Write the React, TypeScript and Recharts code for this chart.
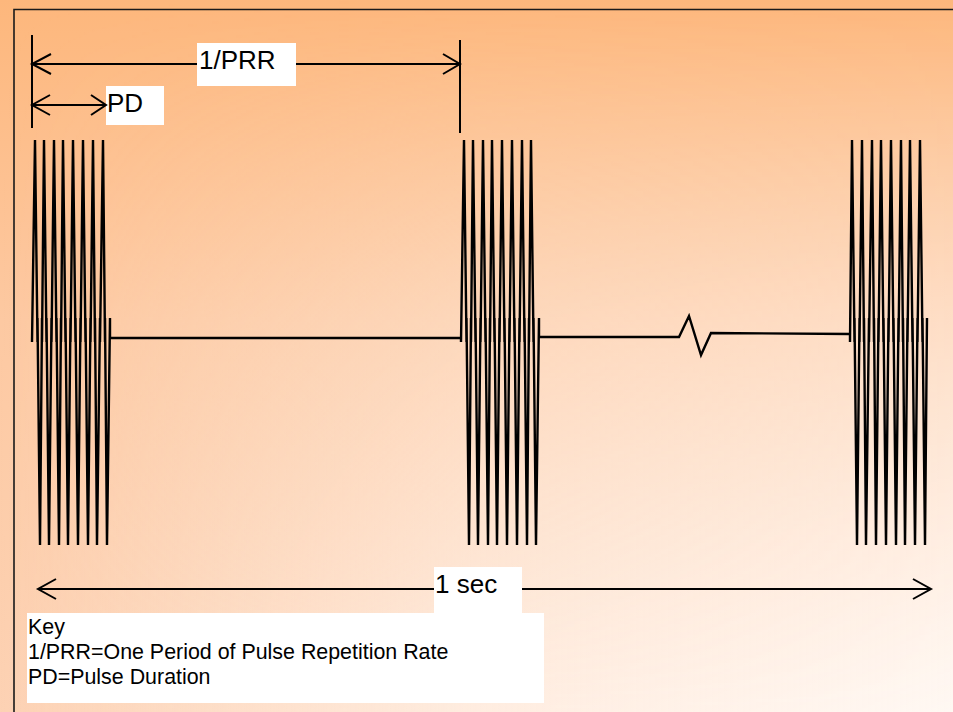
import React from 'react';
import { ComposedChart, Line, XAxis, YAxis, ReferenceArea } from 'recharts';

type Pt = { x: number; y: number };
const toPts = (arr: number[][]): Pt[] => arr.map(([x, y]) => ({ x, y }));

// ---- diagram data (diagram units = pixels of a 953 x 712 canvas) ----
// each burst: alternating crest / trough x positions
const burst1Extremes = [35, 40, 44, 49, 54, 59, 63, 68, 73, 78, 83, 88, 93, 97, 103, 107];
const burst2Extremes = [464, 469, 473, 478, 483, 488, 492, 497, 502, 507, 512, 517, 522, 527, 531, 536];
const burst3Extremes = [852, 857, 862, 866, 872, 876, 881, 886, 891, 896, 901, 905, 910, 915, 920, 925];
const burstStart = [32, 461, 850];
const burstEnd = [110, 539, 927];

const crestY = 140;
const troughY = 545;
const crestBaseY = 342;
const troughBaseY = 318;

const baseline1: number[][] = [[110, 338], [461, 338]];
const baseline2: number[][] = [[539, 337], [679, 337], [689, 316], [701, 355], [711, 333], [850, 334]];

const buildBurst = (ext: number[], xs: number, xe: number): number[][] => {
  const out: number[][] = [];
  for (let i = 0; i < ext.length; i++) {
    const left = i === 0 ? xs : (ext[i - 1] + ext[i]) / 2;
    const right = i === ext.length - 1 ? xe : (ext[i] + ext[i + 1]) / 2;
    const isCrest = i % 2 === 0;
    const base = isCrest ? crestBaseY : troughBaseY;
    out.push([left, base], [ext[i], isCrest ? crestY : troughY], [right, base]);
  }
  return out;
};

const waveform: number[][] = [
  ...buildBurst(burst1Extremes, burstStart[0], burstEnd[0]),
  ...baseline1,
  ...buildBurst(burst2Extremes, burstStart[1], burstEnd[1]),
  ...baseline2,
  ...buildBurst(burst3Extremes, burstStart[2], burstEnd[2]),
];

const frame: number[][] = [[14, 712], [14, 9.5], [953, 9.5]];

const prrTickLeft: number[][] = [[32, 35], [32, 128]];
const prrTickRight: number[][] = [[460, 40], [460, 133]];
const prrLineA: number[][] = [[32, 64], [197, 64]];
const prrLineB: number[][] = [[296, 64], [460, 64]];
const prrHeadLeft: number[][] = [[51, 54], [32, 64], [51, 74]];
const prrHeadRight: number[][] = [[443, 54], [460, 64], [443, 74]];

const pdLine: number[][] = [[32, 105], [106, 105]];
const pdHeadLeft: number[][] = [[50, 95], [32, 105], [50, 115]];
const pdHeadRight: number[][] = [[91, 95], [106, 105], [91, 115]];

const secLineA: number[][] = [[38, 589], [434, 589]];
const secLineB: number[][] = [[522, 589], [931, 589]];
const secHeadLeft: number[][] = [[56, 579], [38, 589], [56, 599]];
const secHeadRight: number[][] = [[913, 579], [931, 589], [913, 599]];

const strokeSeries: { name: string; pts: number[][]; w: number; color: string }[] = [
  { name: 'frame', pts: frame, w: 1.6, color: '#1a1a1a' },
  { name: 'waveform', pts: waveform, w: 2.4, color: '#000' },
  { name: 'prrTickLeft', pts: prrTickLeft, w: 2, color: '#000' },
  { name: 'prrTickRight', pts: prrTickRight, w: 2, color: '#000' },
  { name: 'prrLineA', pts: prrLineA, w: 2, color: '#000' },
  { name: 'prrLineB', pts: prrLineB, w: 2, color: '#000' },
  { name: 'prrHeadLeft', pts: prrHeadLeft, w: 2, color: '#000' },
  { name: 'prrHeadRight', pts: prrHeadRight, w: 2, color: '#000' },
  { name: 'pdLine', pts: pdLine, w: 2, color: '#000' },
  { name: 'pdHeadLeft', pts: pdHeadLeft, w: 2, color: '#000' },
  { name: 'pdHeadRight', pts: pdHeadRight, w: 2, color: '#000' },
  { name: 'secLineA', pts: secLineA, w: 2, color: '#000' },
  { name: 'secLineB', pts: secLineB, w: 2, color: '#000' },
  { name: 'secHeadLeft', pts: secHeadLeft, w: 2, color: '#000' },
  { name: 'secHeadRight', pts: secHeadRight, w: 2, color: '#000' },
];

// label boxes: [x1, x2, y1, y2]
const prrBox = [197, 296, 43, 86];
const pdBox = [106, 164, 86, 125];
const secBox = [434, 522, 567, 613];
const keyBox = [27, 544, 613, 703];

const prrText = ['1/PRR'];
const pdText = ['PD'];
const secText = ['1 sec'];
const keyText = ['Key', '1/PRR=One Period of Pulse Repetition Rate', 'PD=Pulse Duration'];

const FONT = '"Liberation Sans", Arial, Helvetica, sans-serif';

const makeLabel =
  (lines: string[], dx: number, dy: number, size: number, gap: number) =>
  (p: any) => {
    const vb = p && p.viewBox ? p.viewBox : { x: 0, y: 0 };
    return (
      <text x={vb.x + dx} y={vb.y + dy} fontFamily={FONT} fontSize={size} fill="#000">
        {lines.map((l, i) => (
          <tspan key={i} x={vb.x + dx} dy={i === 0 ? 0 : gap}>
            {l}
          </tspan>
        ))}
      </text>
    );
  };

const W = 953;
const H = 712;

export default function App() {
  return (
    <div style={{ position: 'absolute', left: 0, top: 0, width: W, height: H, overflow: 'hidden' }}>
      <div
        style={{
          position: 'absolute',
          inset: 0,
          background: 'linear-gradient(to bottom, #FDB77C 0%, #FDC9A2 45%, #FDD2B4 100%)',
        }}
      />
      <div
        style={{
          position: 'absolute',
          inset: 0,
          background:
            'linear-gradient(to right, rgba(255,248,243,0) 0%, rgba(255,248,243,0.7) 50%, rgba(255,248,243,1) 100%)',
          WebkitMaskImage: 'linear-gradient(to bottom, rgba(0,0,0,0) 0%, rgba(0,0,0,1) 100%)',
          maskImage: 'linear-gradient(to bottom, rgba(0,0,0,0) 0%, rgba(0,0,0,1) 100%)',
        } as React.CSSProperties}
      />
      <div style={{ position: 'absolute', left: 0, top: 0 }}>
        <ComposedChart width={W} height={H} margin={{ top: 0, right: 0, bottom: 0, left: 0 }}>
          <XAxis dataKey="x" type="number" domain={[0, W]} hide allowDataOverflow />
          <YAxis dataKey="y" type="number" domain={[0, H]} reversed hide allowDataOverflow />
          {strokeSeries.map((s) => (
            <Line
              key={s.name}
              data={toPts(s.pts)}
              dataKey="y"
              type="linear"
              stroke={s.color}
              strokeWidth={s.w}
              dot={false}
              activeDot={false}
              isAnimationActive={false}
              strokeLinejoin="miter"
            />
          ))}
          <ReferenceArea
            x1={prrBox[0]} x2={prrBox[1]} y1={prrBox[2]} y2={prrBox[3]}
            fill="#fff" fillOpacity={1} stroke="none"
            label={makeLabel(prrText, 2, 26, 26, 0)}
          />
          <ReferenceArea
            x1={pdBox[0]} x2={pdBox[1]} y1={pdBox[2]} y2={pdBox[3]}
            fill="#fff" fillOpacity={1} stroke="none"
            label={makeLabel(pdText, 1, 26, 26, 0)}
          />
          <ReferenceArea
            x1={secBox[0]} x2={secBox[1]} y1={secBox[2]} y2={secBox[3]}
            fill="#fff" fillOpacity={1} stroke="none"
            label={makeLabel(secText, 1, 26, 26, 0)}
          />
          <ReferenceArea
            x1={keyBox[0]} x2={keyBox[1]} y1={keyBox[2]} y2={keyBox[3]}
            fill="#fff" fillOpacity={1} stroke="none"
            label={makeLabel(keyText, 1, 21, 21.4, 25)}
          />
        </ComposedChart>
      </div>
    </div>
  );
}
